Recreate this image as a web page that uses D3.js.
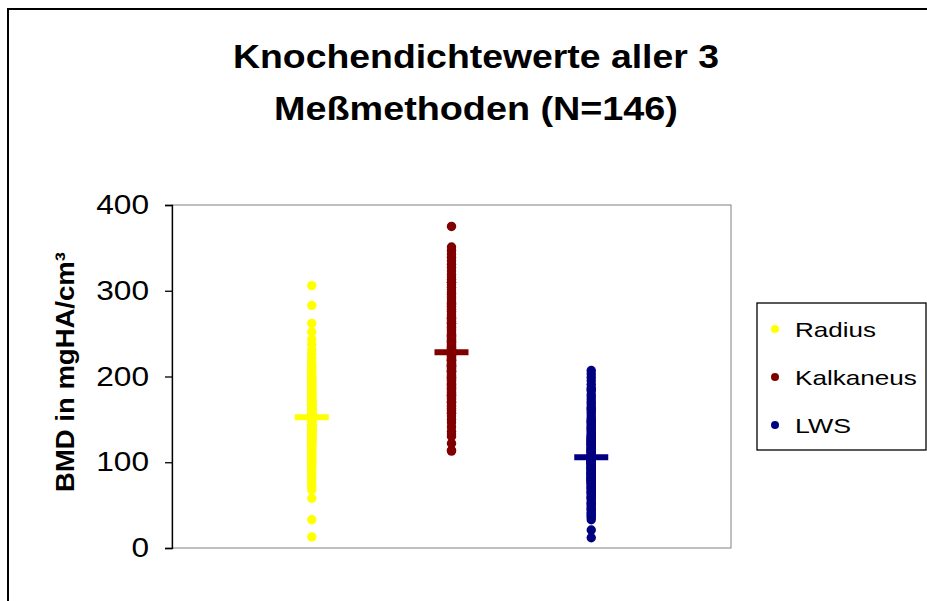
<!DOCTYPE html>
<html>
<head>
<meta charset="utf-8">
<script src="https://cdn.jsdelivr.net/npm/d3@7"></script>
<style>
  html, body { margin: 0; padding: 0; background: #fff; }
  svg { display: block; font-family: "Liberation Sans", Arial, sans-serif; }
</style>
</head>
<body>
<svg id="chart" width="927" height="601"></svg>
<script>
// Bone mineral density (mgHA/cm³) per measuring site, N = 146 each
const series = ["Radius", "Kalkaneus", "LWS"];
const colors = ["#FFFF00", "#800000", "#000080"];
const yTicks = [0, 100, 200, 300, 400];
const titleLines = ["Knochendichtewerte aller 3", "Meßmethoden (N=146)"];

const radius = [
  306, 283, 262, 252, 243, 237, 231, 226, 221, 217,
  213, 209, 206, 203, 200, 197, 195, 193, 190, 188,
  186, 184, 182, 181, 179, 177, 176, 174, 173, 172,
  170, 169, 168, 167, 166, 165, 164, 163, 162, 161,
  160, 159, 158, 158, 157, 156, 155, 155, 154, 153,
  153, 152, 152, 151, 150, 150, 149, 149, 148, 147,
  147, 146, 146, 145, 145, 144, 143, 143, 142, 142,
  141, 140, 140, 139, 138, 138, 137, 136, 135, 135,
  134, 133, 132, 131, 130, 129, 128, 127, 126, 125,
  124, 123, 122, 121, 120, 118, 117, 115, 114, 112,
  110, 108, 106, 104, 102, 100, 98, 96, 93, 90,
  211, 198, 192, 185, 178, 171, 168, 164, 160, 157,
  156, 154, 151, 150, 148, 145, 141, 137, 133, 128,
  87, 84, 80, 76, 72, 68, 58, 33, 13, 215,
  202, 189, 175, 162, 139, 98
];

const kalkaneus = [
  375, 351, 347, 343, 339, 335, 331, 327, 323, 319,
  316, 313, 310, 307, 304, 301, 298, 296, 293, 291,
  288, 286, 284, 282, 280, 278, 276, 274, 272, 270,
  268, 266, 264, 262, 260, 258, 257, 255, 253, 252,
  250, 249, 247, 246, 245, 243, 242, 241, 240, 238,
  237, 236, 235, 234, 233, 232, 231, 230, 229, 228,
  227, 226, 225, 224, 223, 222, 221, 220, 219, 218,
  217, 216, 215, 214, 213, 212, 211, 210, 209, 208,
  207, 206, 205, 203, 202, 200, 199, 197, 196, 194,
  192, 191, 189, 187, 185, 183, 181, 179, 177, 175,
  173, 171, 168, 166, 163, 160, 157, 154, 150, 146,
  141, 136, 130, 122, 114, 268, 244, 226, 211, 198,
  310, 285, 262, 248, 239, 231, 224, 219, 213, 206,
  201, 195, 190, 186, 182, 178, 174, 170, 165, 161,
  188, 180, 169, 158, 133, 113
];

const lws = [
  207, 203, 199, 195, 191, 187, 183, 179, 176, 173,
  170, 167, 164, 161, 158, 155, 152, 150, 148, 146,
  144, 142, 140, 138, 136, 134, 132, 130, 129, 128,
  127, 126, 125, 124, 123, 122, 121, 120, 119, 118,
  117, 116, 115, 114, 113, 112, 111, 110, 109, 108,
  107, 106, 106, 105, 105, 104, 104, 103, 103, 102,
  102, 101, 101, 100, 100, 99, 99, 98, 98, 97,
  96, 95, 94, 93, 92, 91, 90, 89, 88, 87,
  86, 85, 84, 83, 82, 81, 80, 79, 78, 77,
  76, 74, 72, 70, 68, 66, 64, 62, 60, 58,
  56, 53, 50, 47, 44, 41, 38, 36, 21, 12,
  185, 162, 147, 139, 131, 126, 121, 116, 112, 108,
  104, 100, 97, 94, 91, 88, 85, 82, 79, 75,
  124, 113, 106, 99, 93, 87, 81, 76, 71, 65,
  69, 59, 52, 46, 40, 33
];

const values = [radius, kalkaneus, lws];

const svg = d3.select("#chart");

// Stretch a text element horizontally so its advance equals `width`.
// `base` is the transform placing the text's anchor point.
function fitWidth(text, width, base) {
  const w = text.node().getComputedTextLength();
  text.attr("transform", `${base} scale(${width / w},1)`);
}

// outer chart frame
svg.append("rect")
  .attr("x", 8).attr("y", 9)
  .attr("width", 940).attr("height", 620)
  .attr("fill", "#fff").attr("stroke", "#000").attr("stroke-width", 2);

// title, two centred lines in a wide bold face
const titleGeom = [
  { y: 68, len: 486 },
  { y: 120, len: 404 }
];
titleLines.forEach((t, i) => {
  const txt = svg.append("text")
    .attr("text-anchor", "middle")
    .attr("font-weight", "bold")
    .attr("font-size", 33)
    .attr("fill", "#000")
    .text(t);
  fitWidth(txt, titleGeom[i].len, `translate(476,${titleGeom[i].y})`);
});

// plot area
const plot = { left: 172, top: 205, right: 731, bottom: 548 };

const x = d3.scaleLinear().domain([0, 4]).range([plot.left, plot.right]);
const y = d3.scaleLinear().domain([0, 400]).range([plot.bottom, plot.top]);

svg.append("rect")
  .attr("x", plot.left).attr("y", plot.top)
  .attr("width", plot.right - plot.left).attr("height", plot.bottom - plot.top)
  .attr("fill", "#fff").attr("stroke", "#808080").attr("stroke-width", 1);

// y axis
const yAxis = d3.axisLeft(y).tickValues(yTicks).tickSize(7).tickPadding(16);
const gy = svg.append("g")
  .attr("transform", `translate(${plot.left},0)`)
  .call(yAxis);
gy.select(".domain").attr("stroke", "#000").attr("stroke-width", 1.3);
gy.selectAll(".tick line").attr("stroke", "#000").attr("stroke-width", 1.3);
gy.selectAll(".tick text")
  .attr("font-family", "Liberation Sans, Arial, sans-serif")
  .attr("font-size", 27).attr("fill", "#000")
  .attr("x", 0)
  .each(function (d) {
    fitWidth(d3.select(this), String(d).length * 17.6, "translate(-23,0)");
  });

// y axis title
const yTitle = svg.append("text")
  .attr("text-anchor", "middle")
  .attr("font-weight", "bold")
  .attr("font-size", 25)
  .attr("fill", "#000")
  .text("BMD in mgHA/cm³");
fitWidth(yTitle, 240, "translate(74,372) rotate(-90)");

// data points
values.forEach((vals, i) => {
  svg.append("g")
    .selectAll("circle")
    .data(vals)
    .join("circle")
    .attr("cx", x(i + 1))
    .attr("cy", d => y(d))
    .attr("r", 4.7)
    .attr("fill", colors[i]);
});

// mean markers
const cross = 17, thick = 3;
values.forEach((vals, i) => {
  const cx = x(i + 1), cy = y(d3.mean(vals));
  const p = d3.path();
  p.moveTo(cx - cross, cy - thick); p.lineTo(cx - thick, cy - thick);
  p.lineTo(cx - thick, cy - cross); p.lineTo(cx + thick, cy - cross);
  p.lineTo(cx + thick, cy - thick); p.lineTo(cx + cross, cy - thick);
  p.lineTo(cx + cross, cy + thick); p.lineTo(cx + thick, cy + thick);
  p.lineTo(cx + thick, cy + cross); p.lineTo(cx - thick, cy + cross);
  p.lineTo(cx - thick, cy + thick); p.lineTo(cx - cross, cy + thick);
  p.closePath();
  svg.append("path").attr("d", p.toString()).attr("fill", colors[i]);
});

// legend
const legend = svg.append("g");
legend.append("rect")
  .attr("x", 757).attr("y", 303).attr("width", 169).attr("height", 147)
  .attr("fill", "#fff").attr("stroke", "#000").attr("stroke-width", 1.3);
const legY = d3.scalePoint().domain(series).range([329, 425]);
const legLen = [81, 122, 56];
series.forEach((s, i) => {
  legend.append("circle")
    .attr("cx", 775).attr("cy", legY(s)).attr("r", 4)
    .attr("fill", colors[i]);
  const t = legend.append("text")
    .attr("font-size", 21).attr("fill", "#000")
    .text(s);
  fitWidth(t, legLen[i], `translate(795,${legY(s) + 8})`);
});
</script>
</body>
</html>
